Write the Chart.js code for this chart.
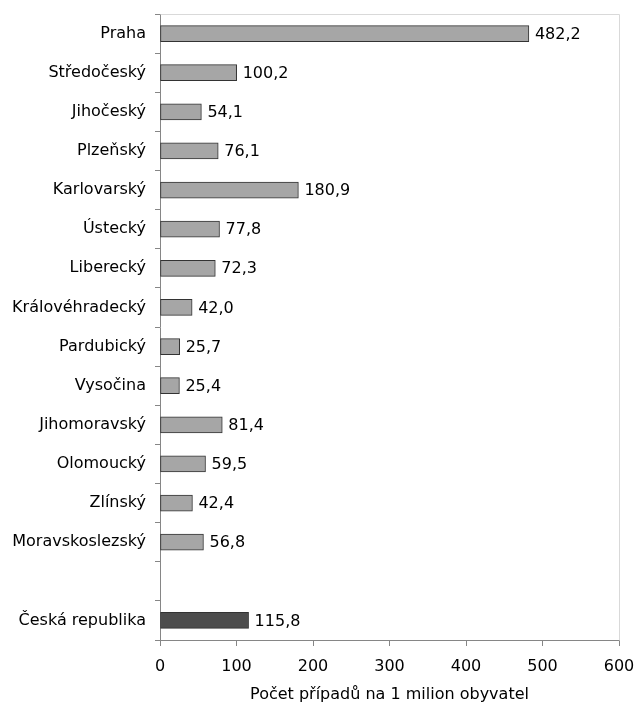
<!DOCTYPE html>
<html><head><meta charset="utf-8">
<script src="https://cdn.jsdelivr.net/npm/chart.js@4"></script>
<style>html,body{margin:0;padding:0;background:#fff}#wrap{width:635px;height:704px}</style>
</head><body><div id="wrap"><canvas id="c" width="635" height="704"></canvas></div>
<script>
const categories = ["Praha","Středočeský","Jihočeský","Plzeňský","Karlovarský","Ústecký","Liberecký","Královéhradecký","Pardubický","Vysočina","Jihomoravský","Olomoucký","Zlínský","Moravskoslezský","","Česká republika"];
const values = [482.2,100.2,54.1,76.1,180.9,77.8,72.3,42.0,25.7,25.4,81.4,59.5,42.4,56.8,null,115.8];
const xTicks = [0,100,200,300,400,500,600];
const axisTitle = "Počet případů na 1 milion obyvatel";

const FONT = "'DejaVu Sans',sans-serif";
const FS = 16;
const colors = categories.map(c => c === "Česká republika" ? "#4d4d4d" : "#a6a6a6");

const frame = {
  id:'frame',
  beforeDatasetsDraw(chart){
    const a = chart.chartArea, ctx = chart.ctx;
    ctx.save(); ctx.strokeStyle = '#d9d9d9'; ctx.lineWidth = 1;
    ctx.beginPath();
    ctx.moveTo(Math.round(a.left)+0.5, Math.round(a.top)+0.5);
    ctx.lineTo(Math.round(a.right)+0.5, Math.round(a.top)+0.5);
    ctx.lineTo(Math.round(a.right)+0.5, Math.round(a.bottom)+0.5);
    ctx.stroke(); ctx.restore();
  }
};
const labelsPlugin = {
  id:'vlabels',
  afterDatasetsDraw(chart){
    const ctx = chart.ctx, meta = chart.getDatasetMeta(0);
    ctx.save(); ctx.font = FS + "px " + FONT; ctx.fillStyle = '#000';
    ctx.textAlign = 'left'; ctx.textBaseline = 'middle';
    meta.data.forEach((el,i)=>{
      const v = values[i]; if (v == null) return;
      ctx.fillText(v.toFixed(1).replace('.',','), el.x + 6, el.y + 1);
    });
    ctx.restore();
  }
};

new Chart(document.getElementById('c'), {
  type:'bar',
  data:{ labels:categories, datasets:[{ data:values, backgroundColor:colors, borderColor:'#333333', borderWidth:1, barThickness:16, borderSkipped:false }]},
  plugins:[frame, labelsPlugin],
  options:{
    indexAxis:'y', responsive:false, animation:false,
    layout:{ padding:{ top:14, right:0, left:0, bottom:0 } },
    plugins:{ legend:{display:false}, tooltip:{enabled:false} },
    scales:{
      x:{ min:0, max:600, afterBuildTicks(s){ s.ticks = xTicks.map(v=>({value:v})); },
        grid:{ drawOnChartArea:false, drawTicks:true, tickLength:6, color:'#868686' },
        border:{ color:'#868686', width:1 },
        ticks:{ color:'#000', font:{ size:FS, family:FONT }, padding:11, maxRotation:0 },
        title:{ display:true, text:axisTitle, color:'#000', font:{ size:FS, family:FONT }, padding:{top:0,bottom:0} },
        afterFit(s){ s.height = 64; s.paddingLeft = 0; s.paddingRight = 16; }
      },
      y:{ grid:{ offset:true, drawOnChartArea:false, drawTicks:true, tickLength:5, color:'#868686' },
        border:{ color:'#868686', width:1 },
        ticks:{ color:'#000', font:{ size:FS, family:FONT }, padding:9, autoSkip:false },
        afterFit(s){ s.width = 160; s.paddingTop = 0; s.paddingBottom = 0; }
      }
    }
  }
});
</script></body></html>
